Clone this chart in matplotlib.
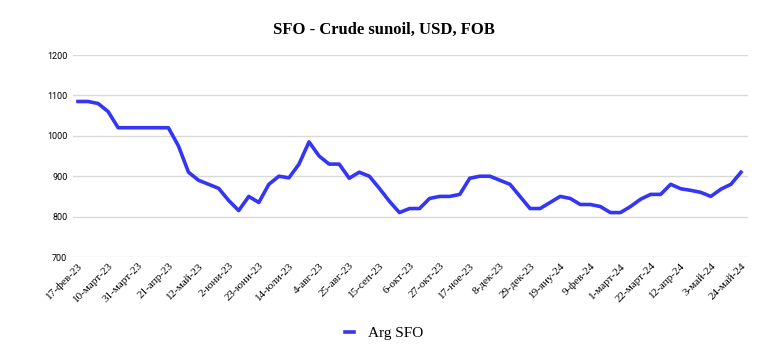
import matplotlib
matplotlib.use("Agg")
import matplotlib.pyplot as plt

# data: weekly Arg SFO prices, 17-feb-23 .. 24-may-24
prices = [1085, 1085, 1080, 1060, 1020, 1020, 1020, 1020, 1020, 1020,
          975, 910, 890, 880, 870, 840, 815, 850, 835, 880,
          900, 896, 930, 985, 950, 930, 930, 895, 910, 900,
          870, 838, 810, 820, 820, 845, 850, 850, 855, 895,
          900, 900, 890, 880, 850, 820, 820, 835, 850, 845,
          830, 830, 825, 810, 810, 825, 843, 855, 855, 880,
          869, 865, 860, 850, 868, 880, 910]
tick_labels = ["17-фев-23", "10-март-23", "31-март-23", "21-апр-23", "12-май-23",
               "2-юни-23", "23-юни-23", "14-юли-23", "4-авг-23", "25-авг-23",
               "15-сеп-23", "6-окт-23", "27-окт-23", "17-ное-23", "8-дек-23",
               "29-дек-23", "19-яну-24", "9-фев-24", "1-март-24", "22-март-24",
               "12-апр-24", "3-май-24", "24-май-24"]
yticks = [700, 800, 900, 1000, 1100, 1200]

weeks = list(range(len(prices)))
tick_pos = weeks[::3]

col = "#3535f5"
serif = ["Liberation Serif", "DejaVu Serif"]

fig = plt.figure(figsize=(7.68, 3.62), dpi=100)
ax = fig.add_axes([0.095, 0.29, 0.879, 0.558])

ax.plot(weeks, prices, color=col, lw=2.6, solid_joinstyle="round", label="Arg SFO", zorder=3)

ax.set_xlim(-0.5, 66.7)
ax.set_ylim(700, 1200)
ax.set_yticks(yticks)
ax.set_yticklabels([str(v) for v in yticks], fontsize=6.5, family="Roboto")
ax.set_xticks(tick_pos)
ax.set_xticklabels(tick_labels, rotation=45, ha="right", va="top",
                   rotation_mode="anchor", fontsize=8, family=serif)
ax.tick_params(axis="both", length=0, pad=4)
ax.tick_params(axis="x", pad=3)
ax.grid(axis="y", color="#d9d9d9", lw=1)
ax.set_axisbelow(True)
for s in ax.spines.values():
    s.set_visible(False)

fig.suptitle("SFO - Crude sunoil, USD, FOB", y=0.94, fontsize=12,
             fontweight="bold", family=serif)
fig.legend(loc="center", bbox_to_anchor=(0.5, 0.08), frameon=False,
           prop={"family": serif, "size": 11}, handlelength=0.6,
           handletextpad=0.9)

fig.savefig("out.png", dpi=100)
